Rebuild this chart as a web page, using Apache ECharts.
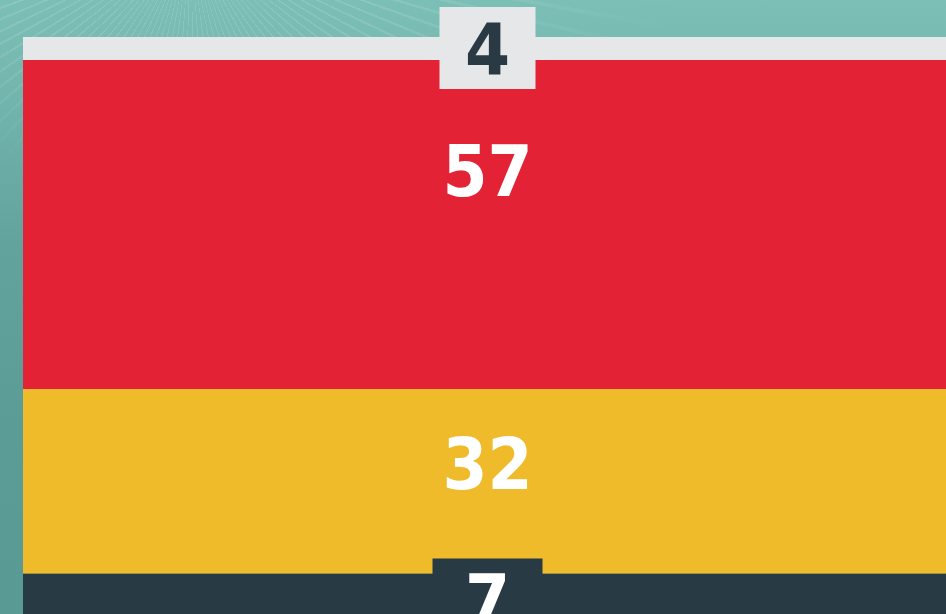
<!DOCTYPE html>
<html>
<head>
<meta charset="utf-8">
<script src="https://cdn.jsdelivr.net/npm/echarts@6/dist/echarts.min.js"></script>
<style>
html,body{margin:0;padding:0;}
body{width:946px;height:614px;overflow:hidden;position:relative;
background: linear-gradient(180deg, #7bbfb6 0%, #74b8b0 12%, #62a39d 40%, #5b9c97 70%, #5a9a95 100%);}
body::before{content:"";position:absolute;left:0;top:0;width:946px;height:614px;
background: repeating-conic-gradient(from 100deg at 190px -60px, rgba(255,255,255,0.13) 0deg 0.6deg, rgba(255,255,255,0) 0.6deg 3deg);
-webkit-mask-image: radial-gradient(ellipse 520px 200px at 190px -20px, #000 35%, transparent 100%);
mask-image: radial-gradient(ellipse 520px 200px at 190px -20px, #000 35%, transparent 100%);}
#c{position:relative;width:946px;height:614px;}
</style>
</head>
<body>
<div id="c"></div>
<script>
const categories = ['Total'];
const segmentNames = ['Dark', 'Yellow', 'Red', 'Gray'];
const segmentValues = [7, 32, 57, 4];
const segmentColors = ['#283b44', '#f0bb2a', '#e32236', '#e6e7e8'];

const font = '"DejaVu Sans Condensed", "DejaVu Sans", sans-serif';
const labelStyles = [
  {position: ['50%', -15], offset: [3, 0], align: 'center', verticalAlign: 'top', color: '#ffffff',
   backgroundColor: '#283b44', width: 110, lineHeight: 68, padding: [14, 0, 0, 0]},
  {position: ['50%', 40], offset: [3, 0], align: 'center', verticalAlign: 'top', color: '#ffffff', lineHeight: 82},
  {position: ['50%', 76], offset: [3, 0], align: 'center', verticalAlign: 'top', color: '#ffffff', lineHeight: 82},
  {position: ['50%', -30], offset: [3, 0], align: 'center', verticalAlign: 'top', color: '#2a3a44',
   backgroundColor: '#e6e7e8', width: 96, lineHeight: 68, padding: [14, 0, 0, 0]}
];

const chart = echarts.init(document.getElementById('c'), null, {renderer: 'canvas'});
chart.setOption({
  backgroundColor: 'transparent',
  animation: false,
  grid: {left: 23, right: 0, top: 37, bottom: -1},
  xAxis: {type: 'category', data: categories, show: false},
  yAxis: {type: 'value', min: 0, max: 100, show: false},
  series: segmentNames.map((name, i) => ({
    name: name,
    type: 'bar',
    stack: 'total',
    barWidth: '100%',
    data: [segmentValues[i]],
    itemStyle: {color: segmentColors[i]},
    label: Object.assign({
      show: true,
      formatter: '{c}',
      fontFamily: font,
      fontWeight: 'bold',
      fontSize: 72
    }, labelStyles[i])
  }))
});
</script>
</body>
</html>
